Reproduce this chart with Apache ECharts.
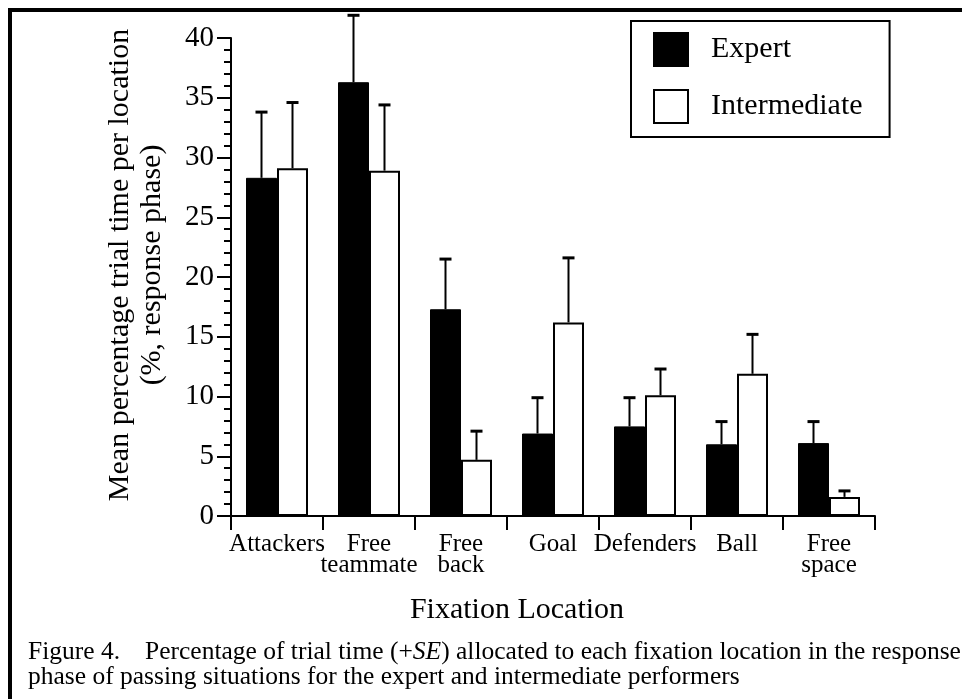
<!DOCTYPE html>
<html>
<head>
<meta charset="utf-8">
<script src="https://cdn.jsdelivr.net/npm/echarts@6/dist/echarts.min.js"></script>
<style>
  html, body { margin: 0; padding: 0; background: #fff; }
  #chart { width: 962px; height: 699px; }
</style>
</head>
<body>
<div id="chart"></div>
<script>
// Fixation locations on the x axis
const categories = ['Attackers', 'Free\nteammate', 'Free\nback', 'Goal', 'Defenders', 'Ball', 'Free\nspace'];

// Mean percentage of trial time per location
const expert = [28.3, 36.3, 17.3, 6.9, 7.5, 6.0, 6.1];
const intermediate = [29.1, 28.9, 4.7, 16.2, 10.1, 11.9, 1.6];

// Standard errors (+SE), drawn above each bar
const expertSE = [5.5, 5.6, 4.2, 3.0, 2.4, 1.9, 1.8];
const intermediateSE = [5.5, 5.5, 2.4, 5.4, 2.2, 3.3, 0.5];

// Y axis ticks
const yMin = 0, yMax = 40, yStep = 5;

const SERIF = '"Liberation Serif", "Times New Roman", serif';
const BAR_W = 31;

const chart = echarts.init(document.getElementById('chart'), null, { renderer: 'canvas' });

function errorSeries(name, values, errs, side) {
  return {
    name: name,
    type: 'custom',
    clip: false,
    z: 1,
    renderItem: function (params, api) {
      const i = api.value(0);
      const v = api.value(1);
      const e = api.value(2);
      const base = api.coord([i, v]);
      const top = api.coord([i, v + e]);
      const x = base[0] + side * BAR_W / 2;
      return {
        type: 'group',
        children: [
          { type: 'line', shape: { x1: x, y1: base[1], x2: x, y2: top[1] },
            style: { stroke: '#000', lineWidth: 2 } },
          { type: 'line', shape: { x1: x - 6, y1: top[1], x2: x + 6, y2: top[1] },
            style: { stroke: '#000', lineWidth: 3 } }
        ]
      };
    },
    encode: { x: 0, y: 1 },
    data: values.map(function (v, i) { return [i, v, errs[i]]; })
  };
}

const option = {
  backgroundColor: '#fff',
  animation: false,
  grid: { left: 231, right: 87, top: 38, bottom: 183, containLabel: false },
  legend: {
    data: ['Expert', 'Intermediate'],
    orient: 'vertical',
    left: 631,
    top: 21,
    padding: [11, 27, 13, 22],
    itemGap: 22,
    itemWidth: 34,
    itemHeight: 33,
    icon: 'rect',
    borderColor: '#000',
    borderWidth: 2,
    selectedMode: false,
    textStyle: { fontFamily: SERIF, fontSize: 30, color: '#000', padding: [0, 0, 0, 18] }
  },
  xAxis: {
    type: 'category',
    data: categories,
    boundaryGap: true,
    axisLine: { lineStyle: { color: '#000', width: 2 } },
    axisTick: { show: true, interval: 0, length: 14, lineStyle: { color: '#000', width: 2 } },
    axisLabel: {
      interval: 0,
      margin: 18,
      fontFamily: SERIF,
      fontSize: 25,
      lineHeight: 21,
      color: '#000'
    },
    splitLine: { show: false }
  },
  yAxis: {
    type: 'value',
    min: yMin,
    max: yMax,
    interval: yStep,
    axisLine: { show: true, lineStyle: { color: '#000', width: 2 } },
    axisTick: { show: true, length: 14, lineStyle: { color: '#000', width: 2 } },
    minorTick: { show: true, splitNumber: 5, length: 7, lineStyle: { color: '#000', width: 2 } },
    axisLabel: { margin: 17, fontFamily: SERIF, fontSize: 29, color: '#000' },
    splitLine: { show: false },
    minorSplitLine: { show: false }
  },
  series: [
    {
      name: 'Expert',
      type: 'bar',
      data: expert,
      barWidth: BAR_W,
      barGap: '0%',
      z: 2,
      itemStyle: { color: '#000', borderColor: '#000', borderWidth: 1 }
    },
    {
      name: 'Intermediate',
      type: 'bar',
      data: intermediate,
      barWidth: BAR_W,
      barGap: '0%',
      z: 2,
      itemStyle: { color: '#fff', borderColor: '#000', borderWidth: 2 }
    },
    errorSeries('Expert SE', expert, expertSE, -1),
    errorSeries('Intermediate SE', intermediate, intermediateSE, 1)
  ],
  graphic: [
    {
      type: 'rect',
      silent: true,
      shape: { x: 10, y: 10, width: 1100, height: 900 },
      style: { fill: 'none', stroke: '#000', lineWidth: 4 }
    },
    {
      type: 'text',
      silent: true,
      x: 136,
      y: 265,
      rotation: Math.PI / 2,
      style: {
        text: 'Mean percentage trial time per location\n(%, response phase)',
        font: '30px ' + SERIF,
        fill: '#000',
        align: 'center',
        verticalAlign: 'middle',
        lineHeight: 32
      }
    },
    {
      type: 'text',
      silent: true,
      x: 517,
      y: 610,
      style: {
        text: 'Fixation Location',
        font: '30px ' + SERIF,
        fill: '#000',
        align: 'center',
        verticalAlign: 'middle'
      }
    },
    {
      type: 'text',
      silent: true,
      x: 28,
      y: 652,
      style: {
        text: 'Figure 4.',
        font: '25.5px ' + SERIF,
        fill: '#000',
        align: 'left',
        verticalAlign: 'middle'
      }
    },
    {
      type: 'text',
      silent: true,
      x: 145,
      y: 652,
      style: {
        text: 'Percentage of trial time (+{i|SE}) allocated to each fixation location in the response',
        font: '25.5px ' + SERIF,
        fill: '#000',
        align: 'left',
        verticalAlign: 'middle',
        rich: { i: { fontStyle: 'italic', fontFamily: SERIF, fontSize: 25.5, fill: '#000' } }
      }
    },
    {
      type: 'text',
      silent: true,
      x: 28,
      y: 677,
      style: {
        text: 'phase of passing situations for the expert and intermediate performers',
        font: '25.5px ' + SERIF,
        fill: '#000',
        align: 'left',
        verticalAlign: 'middle'
      }
    }
  ]
};

chart.setOption(option);
</script>
</body>
</html>
